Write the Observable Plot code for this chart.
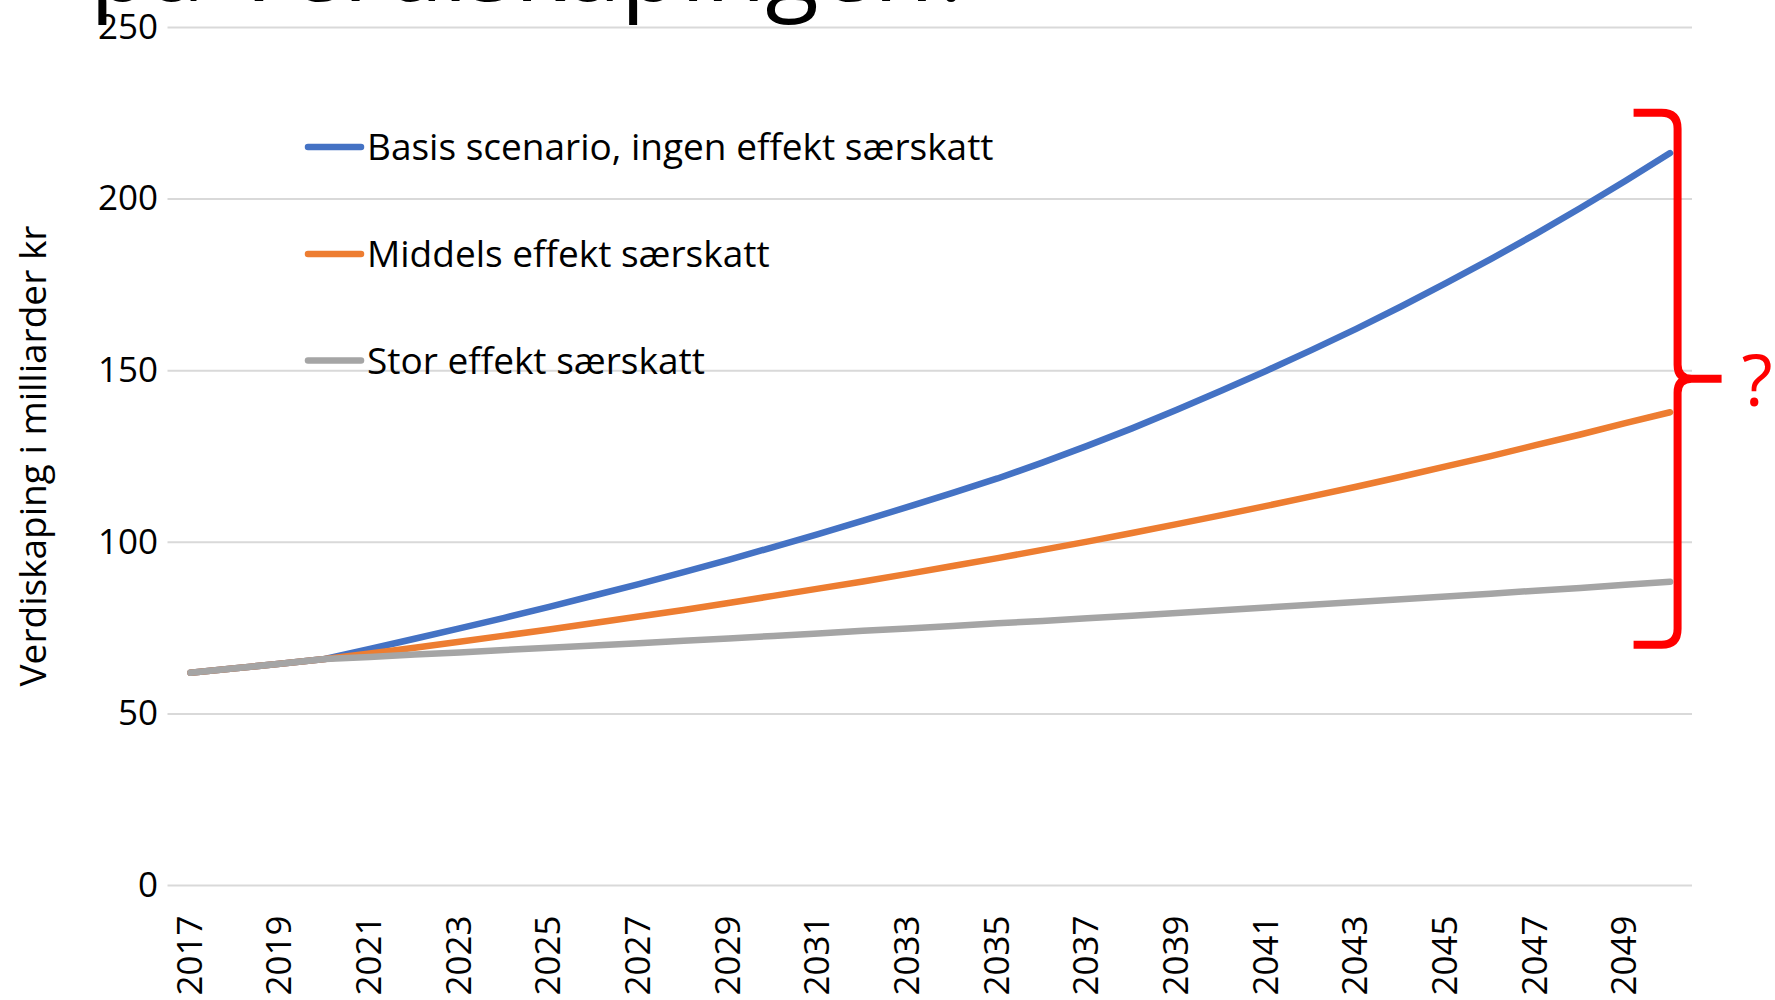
<!DOCTYPE html>
<html>
<head>
<meta charset="utf-8">
<script src="https://cdn.jsdelivr.net/npm/d3@7"></script>
<script src="https://cdn.jsdelivr.net/npm/@observablehq/plot@0.6"></script>
<style>
  html, body { margin: 0; padding: 0; background: #ffffff; }
  #chart { position: relative; width: 1775px; height: 1000px; overflow: hidden; }
</style>
</head>
<body>
<div id="chart"></div>
<script>
const years = [2017,2018,2019,2020,2021,2022,2023,2024,2025,2026,2027,2028,2029,2030,2031,2032,2033,2034,2035,2036,2037,2038,2039,2040,2041,2042,2043,2044,2045,2046,2047,2048,2049,2050];
const basis   = [62.0,63.3,64.6,66.0,68.9,71.9,74.9,78.0,81.2,84.5,87.8,91.3,94.9,98.6,102.4,106.3,110.3,114.4,118.6,123.2,128.1,133.2,138.6,144.2,150.0,156.0,162.2,168.7,175.5,182.5,189.8,197.4,205.3,213.4];
const middels = [62.0,63.3,64.6,66.0,67.6,69.3,71.0,72.8,74.6,76.5,78.4,80.3,82.3,84.4,86.5,88.6,90.8,93.1,95.4,97.8,100.2,102.7,105.3,107.9,110.6,113.4,116.2,119.1,122.1,125.1,128.3,131.4,134.7,137.9];
const stor    = [62.0,63.3,64.6,66.0,66.6,67.3,67.9,68.6,69.3,69.9,70.6,71.3,72.0,72.7,73.4,74.2,74.9,75.6,76.4,77.1,77.9,78.6,79.4,80.2,81.0,81.8,82.6,83.4,84.2,85.0,85.9,86.7,87.6,88.5];
const seriesNames = ["Basis scenario, ingen effekt særskatt", "Middels effekt særskatt", "Stor effekt særskatt"];
const seriesColors = ["#4472C4", "#ED7D31", "#A5A5A5"];
const yTicks = [0, 50, 100, 150, 200, 250];
const xTickYears = [2017,2019,2021,2023,2025,2027,2029,2031,2033,2035,2037,2039,2041,2043,2045,2047,2049];
const titleText = "på Verdiskapingen?";
const yLabel = "Verdiskaping i milliarder kr";
const braceRange = [225, 70]; // value range the bracket spans
const braceMark = "?";

const seriesValues = [basis, middels, stor];
const data = [];
seriesNames.forEach((name, i) => {
  years.forEach((yr, j) => data.push({series: name, year: yr, value: seriesValues[i][j]}));
});

const FONT = "'Open Sans', 'Noto Sans', sans-serif";

const plot = Plot.plot({
  width: 1775,
  height: 1000,
  marginLeft: 167.5,
  marginRight: 83,
  marginTop: 27,
  marginBottom: 115,
  style: {fontFamily: FONT, color: "#000000", background: "#ffffff", overflow: "visible"},
  x: {type: "point", domain: years, padding: 0.5, round: false},
  y: {domain: [0, 250]},
  color: {domain: seriesNames, range: seriesColors},
  marks: [
    Plot.gridY(yTicks, {stroke: "#d9d9d9", strokeOpacity: 1, strokeWidth: 2}),
    Plot.axisY(yTicks, {tickSize: 0, tickPadding: 10, fontSize: 35, label: null}),
    Plot.axisX(xTickYears, {tickSize: 0, tickPadding: 30, tickRotate: -90, fontSize: 35, label: null, tickFormat: d => String(d)}),
    Plot.line(data, {x: "year", y: "value", z: "series", stroke: "series", strokeWidth: 6.5, strokeLinecap: "round", strokeLinejoin: "round"})
  ]
});

document.getElementById("chart").appendChild(plot);

const svg = d3.select(plot);
const xs = plot.scale("x");
const ys = plot.scale("y");

// Title (cut off at top of slide)
svg.append("text")
  .attr("x", 90).attr("y", 1)
  .attr("text-anchor", "start")
  .attr("font-family", FONT).attr("font-size", 98).attr("fill", "#000")
  .text(titleText);

// Y axis title
svg.append("text")
  .attr("transform", "translate(46,456) rotate(-90)")
  .attr("text-anchor", "middle")
  .attr("font-family", FONT).attr("font-size", 37).attr("fill", "#000")
  .text(yLabel);

// Legend
const legendY = [147, 254, 360.5];
seriesNames.forEach((name, i) => {
  const g = svg.append("g");
  g.append("line")
    .attr("x1", 308).attr("x2", 361).attr("y1", legendY[i]).attr("y2", legendY[i])
    .attr("stroke", seriesColors[i]).attr("stroke-width", 6.5).attr("stroke-linecap", "round");
  g.append("text")
    .attr("x", 367).attr("y", legendY[i] + 13)
    .attr("text-anchor", "start")
    .attr("font-family", FONT).attr("font-size", 37).attr("fill", "#000")
    .text(name);
});

// Red bracket
const X = xs.apply(years[years.length - 1]) + 8;
const T = ys.apply(braceRange[0]);
const B = ys.apply(braceRange[1]);
const M = (T + B) / 2;
const bracePath = [
  `M${X - 44},${T} L${X - 16},${T} Q${X},${T} ${X},${T + 16} L${X},${M - 14} Q${X},${M} ${X + 14},${M} L${X + 44},${M}`,
  `M${X + 14},${M} Q${X},${M} ${X},${M + 14} L${X},${B - 16} Q${X},${B} ${X - 16},${B} L${X - 44},${B}`
].join(" ");
svg.append("path")
  .attr("d", bracePath)
  .attr("fill", "none").attr("stroke", "#FF0000").attr("stroke-width", 8)
  .attr("stroke-linejoin", "round");
svg.append("text")
  .attr("x", X + 64).attr("y", M + 27)
  .attr("text-anchor", "start")
  .attr("font-family", FONT).attr("font-size", 72).attr("fill", "#FF0000")
  .text(braceMark);
</script>
</body>
</html>
